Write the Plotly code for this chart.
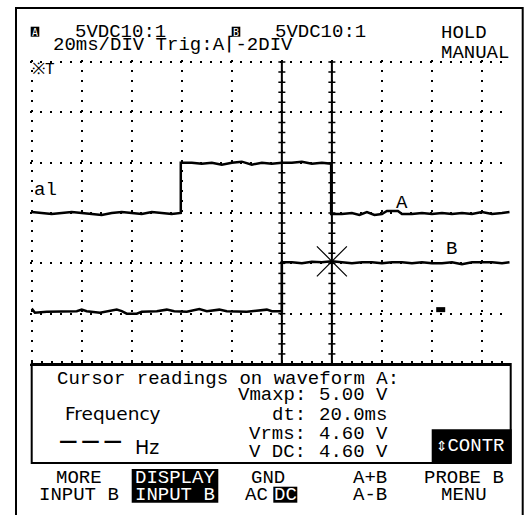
import plotly.graph_objects as go
import numpy as np

W, H = 527, 515

# ---------------- data ----------------
ms_per_div = 20
screen_ms = 191.2
volts_per_div = 5.0

# channel A trace (volts)
a_time_ms = [0, 4, 8, 12, 16, 20, 24, 28, 32, 36, 40, 44, 48, 52, 56, 59.6,
             59.6, 64, 68, 72, 76, 80, 84, 88, 92, 96, 100, 104, 108, 112, 116, 119.7,
             119.7, 124, 128, 131, 134, 137, 140, 142, 146.4, 148, 152, 156, 160, 164,
             168, 172, 176, 180, 184, 188, 191]
a_volts = [0.1, 0.0, -0.1, 0.0, 0.1, 0.0, -0.1, -0.2, 0.0, 0.1, 0.0, -0.1, 0.1, 0.0, -0.1, 0.0,
           5.0, 5.0, 4.9, 5.0, 4.8, 5.0, 5.1, 4.8, 5.0, 4.9, 5.0, 5.0, 5.1, 4.9, 5.0, 4.9,
           -0.1, -0.1, 0.0, -0.2, 0.1, -0.2, -0.1, 0.2, 0.2, -0.1, -0.1, 0.0, -0.1, 0.0,
           -0.1, 0.0, -0.1, 0.1, -0.1, 0.0, 0.1]

# channel B trace (volts)
b_time_ms = [0, 1.3, 6, 12, 18, 20, 22, 27.3, 30, 34, 36, 38, 42, 44, 50, 54, 57, 62, 67, 70,
             75, 78, 86, 94, 96, 100,
             100, 104, 108, 112, 116, 120, 124, 128, 132, 136, 140, 144, 148, 152, 156, 160,
             164, 168, 172, 176, 180, 184, 188, 191]
b_volts = [0.5, 0.1, 0.2, 0.2, 0.25, 0.4, 0.25, 0.1, 0.25, 0.4, 0.25, 0.0, 0.0, 0.2, 0.25, 0.4,
           0.25, 0.2, 0.45, 0.25, 0.4, 0.25, 0.2, 0.4, 0.25, 0.25,
           5.1, 5.1, 5.0, 5.15, 5.1, 5.2, 5.1, 5.0, 5.1, 5.1, 5.0, 5.1, 5.1, 5.0, 5.1, 5.0,
           5.0, 5.1, 4.9, 5.1, 5.1, 5.1, 5.0, 5.1]
b_marker_ms = [161.7, 165.3]
b_marker_volts = [0.4, 0.4]

cursor_ms = [100, 120]

header_a = "5VDC10:1"
header_b = "5VDC10:1"
timebase = "20ms/DIV Trig:A\u2308-2DIV"
reading_title = "Cursor readings on waveform A:"
reading_labels = ["Vmaxp:", "dt:", "Vrms:", "V DC:"]
reading_values = ["5.00 V", "20.0ms", "4.60 V", "4.60 V"]
softkey_top = ["MORE", "DISPLAY", "GND", "A+B", "PROBE B"]
softkey_bottom = ["INPUT B", "INPUT B", "AC", "A-B", "MENU"]

# ---------------- layout helpers ----------------
A_ZERO_DIV = 3.0
B_ZERO_DIV = 1.0
MONO = "Liberation Mono, DejaVu Sans Mono, monospace"
FS = 19
PX_PER_DIV_Y = 302 / 6.0
PX_PER_MS = 478.3 / screen_ms
PAD_DIV = 0.03       # small padding so the edge grid lines are drawn
PAD_MS = 0.6


def px(x):
    return x / W


def py(y):
    return 1 - y / H


def to_div(volts, zero):
    return [zero + v / volts_per_div for v in volts]


fig = go.Figure()

# traces
fig.add_trace(go.Scatter(x=a_time_ms, y=to_div(a_volts, A_ZERO_DIV), mode="lines",
                         line=dict(color="black", width=2.5), hoverinfo="skip"))
fig.add_trace(go.Scatter(x=b_time_ms, y=to_div(b_volts, B_ZERO_DIV), mode="lines",
                         line=dict(color="black", width=2.5), hoverinfo="skip"))
fig.add_trace(go.Scatter(x=b_marker_ms, y=to_div(b_marker_volts, B_ZERO_DIV), mode="lines",
                         line=dict(color="black", width=5), hoverinfo="skip"))

# cursors with tick marks
tick_divs = np.round(np.arange(0, 6.001, 0.2), 3)
for c in cursor_ms:
    fig.add_trace(go.Scatter(x=[c] * len(tick_divs), y=tick_divs, mode="lines+markers",
                             line=dict(color="black", width=2),
                             marker=dict(symbol="line-ew-open", size=5, color="black",
                                         line=dict(color="black", width=1.5)),
                             hoverinfo="skip"))

# crosshair where cursor 2 meets trace B
b_at_cursor = b_volts[b_time_ms.index(cursor_ms[1])]
fig.add_trace(go.Scatter(x=[cursor_ms[1]], y=to_div([b_at_cursor], B_ZERO_DIV), mode="markers",
                         marker=dict(symbol="x-thin-open", size=30, color="black",
                                     line=dict(color="black", width=1.2)),
                         hoverinfo="skip"))

grid_dash = "2px,8px"
x_left = 31.7 - PAD_MS * PX_PER_MS
y_top = 62 - PAD_DIV * PX_PER_DIV_Y
fig.update_layout(
    width=W, height=H, margin=dict(l=0, r=0, t=0, b=0),
    paper_bgcolor="white", plot_bgcolor="white", showlegend=False,
    xaxis=dict(domain=[px(x_left), px(510)], range=[-PAD_MS, screen_ms], dtick=ms_per_div,
               tick0=0, showgrid=True, gridcolor="black", gridwidth=1.5, griddash=grid_dash,
               showline=True, linecolor="black", linewidth=2, zeroline=False,
               ticks="inside", ticklen=3, tickwidth=1.5, tickcolor="black",
               minor=dict(dtick=ms_per_div / 5, ticks="inside", ticklen=3, tickwidth=1.5,
                          tickcolor="black", showgrid=False),
               showticklabels=False, fixedrange=True),
    yaxis=dict(domain=[py(364), py(y_top)], range=[0, 6 + PAD_DIV], dtick=1, tick0=0,
               showgrid=True, gridcolor="black", gridwidth=1.5, griddash=grid_dash,
               showline=False, zeroline=False, showticklabels=False, ticks="",
               fixedrange=True),
)

shapes = []
# outer frame
shapes.append(dict(type="path", xref="paper", yref="paper",
                   path=f"M{px(16)},{py(520)} L{px(16)},{py(8)} L{px(522.7)},{py(8)} L{px(522.7)},{py(520)}",
                   line=dict(color="black", width=2)))
# readings box
shapes.append(dict(type="rect", xref="paper", yref="paper", x0=px(31.7), x1=px(510.7),
                   y0=py(463), y1=py(364), line=dict(color="black", width=2)))


def black_box(x0, x1, y0, y1):
    shapes.append(dict(type="rect", xref="paper", yref="paper", x0=px(x0), x1=px(x1),
                       y0=py(y1), y1=py(y0), fillcolor="black", line=dict(width=0),
                       layer="above"))


black_box(30.7, 39.3, 26.7, 36.7)     # A badge
black_box(231.7, 240.3, 26.7, 36.7)   # B badge
black_box(431.7, 511.7, 429.3, 463.3)  # CONTR
black_box(131.7, 218.3, 469, 502.7)   # DISPLAY INPUT B
black_box(273.3, 297.3, 486.7, 502.7)  # DC
fig.update_layout(shapes=shapes)

ann = []


def txt(s, x, y, anchor="center", size=FS, color="black", family=MONO, weight="normal"):
    ann.append(dict(text=s, x=px(x), y=py(y), xref="paper", yref="paper",
                    xanchor=anchor, yanchor="middle", showarrow=False, borderpad=0,
                    font=dict(family=family, size=size, color=color, weight=weight)))


# header
txt("A", 35, 32, size=10, color="white", family="DejaVu Sans Mono")
txt("B", 236, 32, size=10, color="white", family="DejaVu Sans Mono")
txt(header_a, 120, 32.5)
txt(header_b, 320, 32.5)
txt(timebase, 172.5, 45)
txt("HOLD", 440, 33, anchor="left")
txt("MANUAL", 440, 53, anchor="left")
txt("\u203bT", 31, 70.5, anchor="left", size=16)

# labels on the graticule (data coordinates)
for s, xm, yd in [("al", 0.5, 3.45), ("A", 148, 3.2), ("B", 168, 2.28)]:
    ann.append(dict(text=s, x=xm, y=yd, xref="x", yref="y",
                    xanchor="left" if s == "al" else "center", yanchor="middle",
                    showarrow=False, borderpad=0,
                    font=dict(family=MONO, size=FS, color="black")))

# readings
txt(reading_title, 228.3, 379)
txt("Frequency", 112.5, 413, family="DejaVu Sans, sans-serif", size=18.5)
txt("\u2014\u2009\u2014\u2009\u2014", 90, 440.5, family="DejaVu Sans", size=18.5, weight="bold")
txt("Hz", 147, 447, family="DejaVu Sans, sans-serif", size=19)
for i, (lab, val) in enumerate(zip(reading_labels, reading_values)):
    yy = [394.5, 415, 433.5, 451.5][i]
    txt(lab, 307, yy, anchor="right")
    txt(val, 318, yy, anchor="left")
txt("\u21d5CONTR", 469.5, 445.5, color="white")

# softkeys
key_x = [78.5, 175, 268, 370, 464]
for i, (t1, t2) in enumerate(zip(softkey_top, softkey_bottom)):
    c1 = "white" if i == 1 else "black"
    txt(t1, key_x[i], 478, color=c1)
    if i == 2:
        txt("AC", 256, 495)
        txt("DC", 285.3, 495, color="white")
    else:
        txt(t2, key_x[i], 495, color=c1)

fig.update_layout(annotations=ann)
fig.write_html("out.html", config={"displayModeBar": False},
               post_script="document.body.style.margin='0';")
